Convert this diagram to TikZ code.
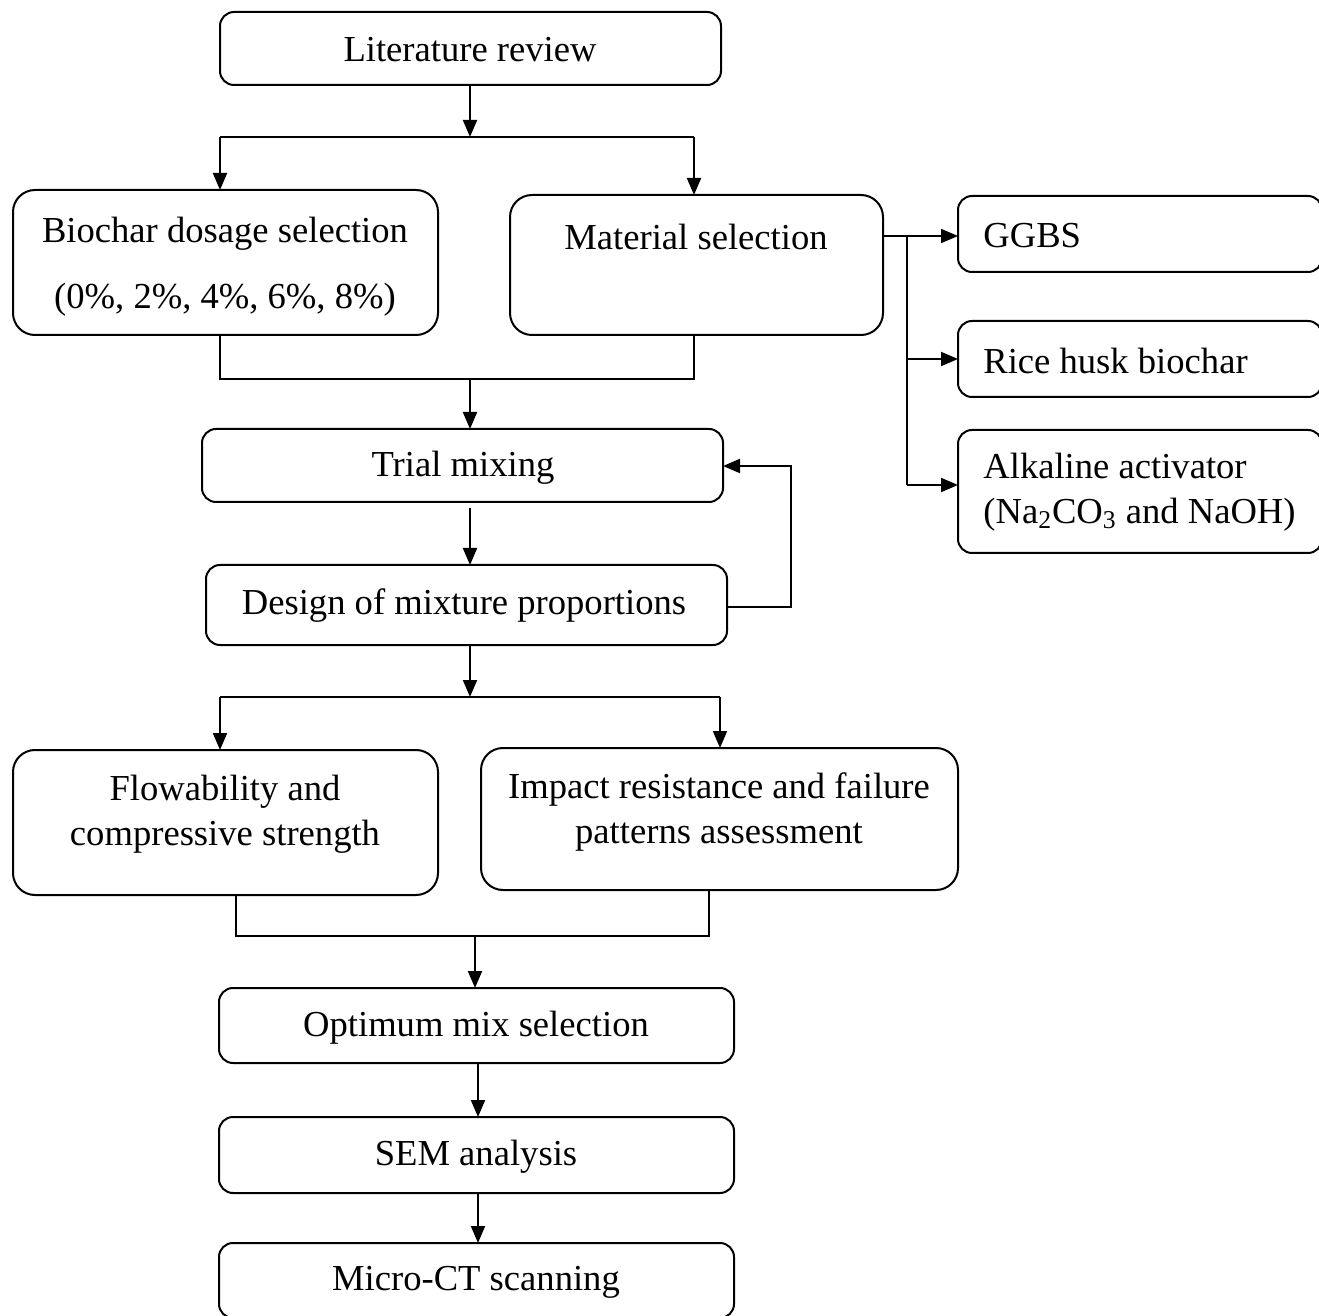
\documentclass[tikz,border=0pt]{standalone}
\usepackage{fontspec}
\setmainfont{Liberation Serif}
\usetikzlibrary{arrows.meta}
\begin{document}
\begin{tikzpicture}[x=0.5pt,y=-0.5pt,
  box/.style={draw, line width=1pt, rounded corners=7pt, inner sep=0pt, outer sep=0pt},
  bigbox/.style={box, rounded corners=11pt},
  lbl/.style={font=\fontsize{18.3}{22.3}\selectfont, inner sep=0pt, align=center},
  lbll/.style={font=\fontsize{18.3}{22.3}\selectfont, inner sep=0pt, align=left, anchor=west},
  conn/.style={line width=1pt},
  arr/.style={line width=1pt, -{Triangle[length=8.5pt,width=7pt]}}]
\useasboundingbox (0,0) rectangle (1319,1316);
\clip (0,0) rectangle (1319,1316);
\fill[white] (0,0) rectangle (1319,1316);

% boxes
\node[box, minimum width=250.5pt, minimum height=36.5pt] (lit) at (470.5,48.5) {};
\node[bigbox, minimum width=212.5pt, minimum height=72.5pt] (bio) at (225.5,262.5) {};
\node[bigbox, minimum width=186.5pt, minimum height=70pt] (mat) at (696.5,265) {};
\node[box, minimum width=182pt, minimum height=38pt] (ggbs) at (1140,234) {};
\node[box, minimum width=182pt, minimum height=38pt] (rice) at (1140,359) {};
\node[box, minimum width=182pt, minimum height=61.5pt] (alk) at (1140,491.5) {};
\node[box, minimum width=260.5pt, minimum height=36.5pt] (trial) at (462.5,465.5) {};
\node[box, minimum width=260.5pt, minimum height=40pt] (design) at (466.5,605) {};
\node[bigbox, minimum width=212.5pt, minimum height=72.5pt] (flow) at (225.5,822.5) {};
\node[bigbox, minimum width=238.5pt, minimum height=71pt] (impact) at (719.5,819) {};
\node[box, minimum width=257.5pt, minimum height=37.5pt] (opt) at (476.5,1025.5) {};
\node[box, minimum width=257.5pt, minimum height=38pt] (sem) at (476.5,1155) {};
\node[box, minimum width=257.5pt, minimum height=37.5pt] (ct) at (476.5,1280.5) {};

% texts
\node[lbl] (litT) at (470,50) {Literature review};
\node[lbl] (bioT1) at (225,234) {Biochar dosage selection};
\node[lbl] (bioT2) at (225,300) {(0\%, 2\%, 4\%, 6\%, 8\%)};
\node[lbl] (matT) at (696,237) {Material selection};
\node[lbll] (ggbsT) at (983,236) {GGBS};
\node[lbll] (riceT) at (983,361) {Rice husk biochar};
\node[lbll] (alkT) at (983,492) {Alkaline activator\\(Na\textsubscript{2}CO\textsubscript{3} and NaOH)};
\node[lbl] (trialT) at (463,468) {Trial mixing};
\node[lbl] (designT) at (464,606) {Design of mixture proportions};
\node[lbl] (flowT) at (225,814) {Flowability and\\compressive strength};
\node[lbl] (impactT) at (719,812) {Impact resistance and failure\\patterns assessment};
\node[lbl] (optT) at (476,1028) {Optimum mix selection};
\node[lbl] (semT) at (476,1157) {SEM analysis};
\node[lbl] (ctT) at (476,1282) {Micro-CT scanning};

% split 1
\coordinate (s1) at (470,137);
\coordinate (s1L) at (220,137);
\coordinate (s1R) at (694,137);
\draw[arr] (s1 |- lit.south) -- (s1);
\draw[conn] (s1L) -- (s1R);
\draw[arr] (s1L) -- (s1L |- bio.north);
\draw[arr] (s1R) -- (s1R |- mat.north);

% join 1
\coordinate (j1L) at (220,379);
\coordinate (j1R) at (694,379);
\coordinate (j1) at (470,379);
\draw[conn] (j1L |- bio.south) -- (j1L) -- (j1R) -- (j1R |- mat.south);
\draw[arr] (j1) -- (j1 |- trial.north);

% material branch
\coordinate (mb) at (907,236);
\coordinate (mbR) at (907,359);
\coordinate (mbA) at (907,485);
\draw[arr] (mb -| mat.east) -- (mb -| ggbs.west);
\draw[conn] (mb) -- (mbA);
\draw[arr] (mbR) -- (mbR -| rice.west);
\draw[arr] (mbA) -- (mbA -| alk.west);

% trial -> design
\coordinate (td) at (470,508);
\draw[arr] (td) -- (td |- design.north);

% feedback
\coordinate (fb1) at (791,607);
\coordinate (fb2) at (791,466);
\draw[arr] (fb1 -| design.east) -- (fb1) -- (fb2) -- (fb2 -| trial.east);

% split 2
\coordinate (s2) at (470,697);
\coordinate (s2L) at (220,697);
\coordinate (s2R) at (720,697);
\draw[arr] (s2 |- design.south) -- (s2);
\draw[conn] (s2L) -- (s2R);
\draw[arr] (s2L) -- (s2L |- flow.north);
\draw[arr] (s2R) -- (s2R |- impact.north);

% join 2
\coordinate (j2L) at (236,936);
\coordinate (j2R) at (709,936);
\coordinate (j2) at (475,936);
\draw[conn] (j2L |- flow.south) -- (j2L) -- (j2R) -- (j2R |- impact.south);
\draw[arr] (j2) -- (j2 |- opt.north);

% bottom chain
\coordinate (bc) at (478,0);
\draw[arr] (bc |- opt.south) -- (bc |- sem.north);
\draw[arr] (bc |- sem.south) -- (bc |- ct.north);
\end{tikzpicture}
\end{document}
